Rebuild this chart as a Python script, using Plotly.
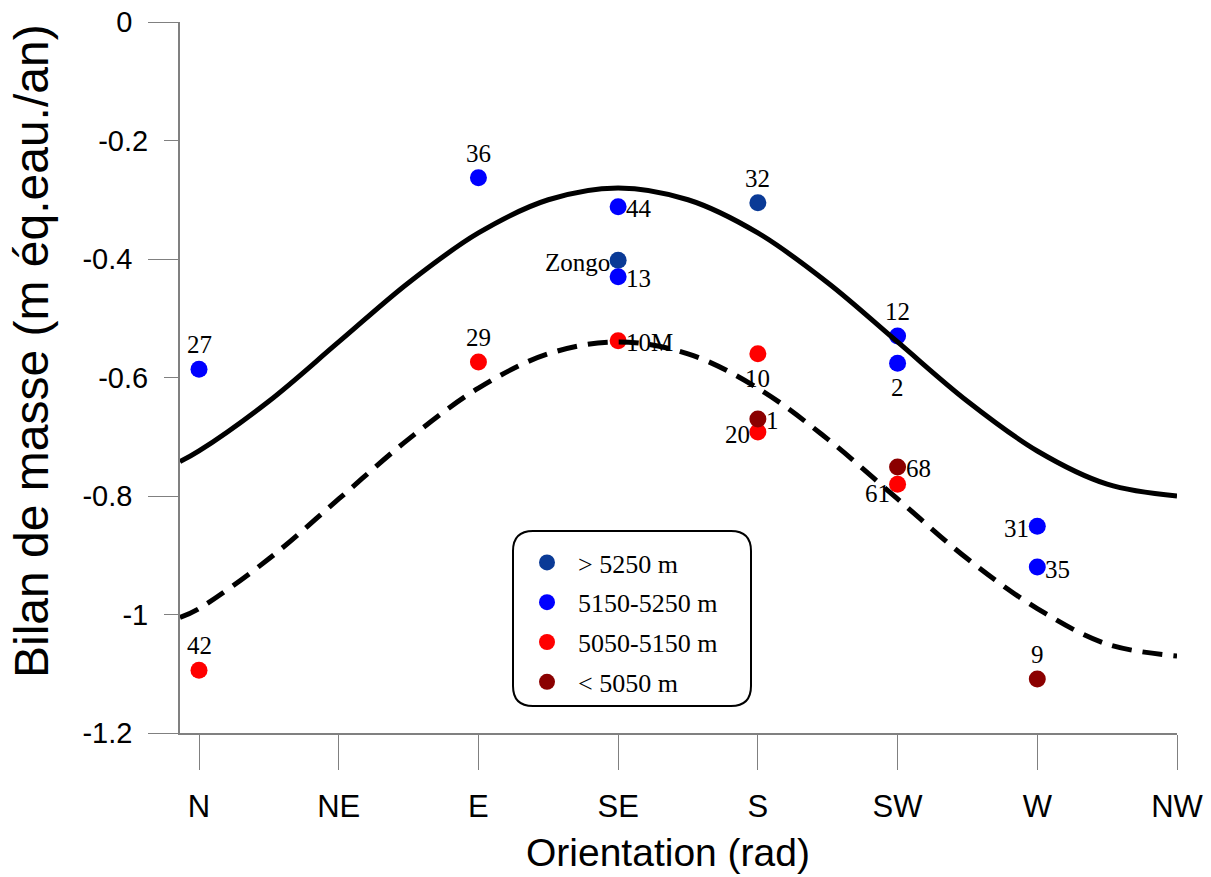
import plotly.graph_objects as go

# ---------------- data ----------------
directions = ["N", "NE", "E", "SE", "S", "SW", "W", "NW"]
y_ticks_long = [0, -0.4, -0.8, -1.2]
y_tick_labels_long = ["0", "-0.4", "-0.8", "-1.2"]
y_ticks_short = [-0.2, -0.6, -1.0]
y_tick_labels_short = ["-0.2", "-0.6", "-1"]

classes = ["> 5250 m", "5150-5250 m", "5050-5150 m", "&lt; 5050 m"]
class_colors = ["#0a3a96", "#0000ff", "#ff0000", "#8b0000"]

station_names = ["27", "42", "36", "29", "44", "Zongo", "13", "10M", "32", "10",
                 "1", "20", "12", "2", "68", "61", "31", "35", "9"]
station_dirs = ["N", "N", "E", "E", "SE", "SE", "SE", "SE", "S", "S",
                "S", "S", "SW", "SW", "SW", "SW", "W", "W", "W"]
station_balance = [-0.586, -1.094, -0.263, -0.574, -0.312, -0.402, -0.430, -0.538, -0.305, -0.560,
                   -0.670, -0.692, -0.530, -0.576, -0.751, -0.780, -0.851, -0.920, -1.109]
station_class = [1, 2, 1, 2, 1, 0, 1, 2, 0, 2,
                 3, 2, 1, 1, 3, 2, 1, 1, 3]

# fitted curves (orientation index, balance)
curve_x = [-0.136, 0, 0.5, 1, 1.5, 2, 2.5, 3, 3.5, 4, 4.5, 5, 5.5, 6, 6.5, 7]
fit_upper = [-0.742, -0.724, -0.640, -0.540, -0.440, -0.356, -0.300, -0.280,
             -0.300, -0.356, -0.440, -0.540, -0.640, -0.724, -0.780, -0.800]
fit_lower = [-1.005, -0.990, -0.906, -0.805, -0.704, -0.618, -0.560, -0.540,
             -0.560, -0.618, -0.704, -0.805, -0.906, -0.990, -1.050, -1.070]

y_title = "Bilan de masse (m éq.eau./an)"
x_title = "Orientation (rad)"

# ---------------- label placement (style) ----------------
label_place = {
    "27": "above", "42": "above", "36": "above", "29": "above", "44": "right",
    "Zongo": "left", "13": "right", "10M": "right", "32": "above", "10": "below",
    "1": "right", "20": "left", "12": "above", "2": "below", "68": "right",
    "61": "lowleft", "31": "left", "35": "right", "9": "above",
}
place_style = {
    "above": dict(xanchor="center", yanchor="bottom", xshift=0, yshift=9),
    "below": dict(xanchor="center", yanchor="top", xshift=0, yshift=-9),
    "right": dict(xanchor="left", yanchor="middle", xshift=6, yshift=-2),
    "left": dict(xanchor="right", yanchor="middle", xshift=-6, yshift=-2),
    "lowleft": dict(xanchor="right", yanchor="middle", xshift=-6, yshift=-9),
}

SANS = "Liberation Sans, Arial, sans-serif"
SERIF = "Liberation Serif, Times New Roman, serif"
AXIS_GREY = "#808080"

W, H = 1211, 877
PL, PR, PT, PB = 180, 1177, 22, 733   # plot area in page pixels

fig = go.Figure()

fig.add_trace(go.Scatter(
    x=curve_x, y=fit_upper, mode="lines", showlegend=False, hoverinfo="skip", yaxis="y2",
    line=dict(color="black", width=5, shape="spline", smoothing=1.0),
))
fig.add_trace(go.Scatter(
    x=curve_x, y=fit_lower, mode="lines", showlegend=False, hoverinfo="skip", yaxis="y2",
    line=dict(color="black", width=5, dash="20px,11px", shape="spline", smoothing=1.0),
))

for ci, cname in enumerate(classes):
    idx = [i for i, c in enumerate(station_class) if c == ci]
    fig.add_trace(go.Scatter(
        x=[directions.index(station_dirs[i]) for i in idx],
        y=[station_balance[i] for i in idx],
        mode="markers",
        name=cname,
        legendgroup=f"g{ci}",
        marker=dict(color=class_colors[ci], size=17, line=dict(width=0)),
        text=[station_names[i] for i in idx],
        hovertemplate="%{text}: %{y}<extra></extra>",
        cliponaxis=False,
    ))

def px(xp):
    return (xp - PL) / (PR - PL)
def py(yp):
    return (PB - yp) / (PB - PT)

annotations = []
for name, d, v in zip(station_names, station_dirs, station_balance):
    st = place_style[label_place[name]]
    annotations.append(dict(
        x=directions.index(d), y=v, xref="x", yref="y", text=name, showarrow=False,
        font=dict(family=SERIF, size=25, color="black"),
        xanchor=st["xanchor"], yanchor=st["yanchor"],
        xshift=st["xshift"], yshift=st["yshift"],
    ))
# axis titles, placed where the reference puts them
annotations.append(dict(
    x=px(31), y=py(351), xref="paper", yref="paper", text=y_title, showarrow=False,
    textangle=-90, xanchor="center", yanchor="middle",
    font=dict(family=SANS, size=48, color="black"),
))
annotations.append(dict(
    x=px(668), y=py(852), xref="paper", yref="paper", text=x_title, showarrow=False,
    xanchor="center", yanchor="middle",
    font=dict(family=SANS, size=39, color="black"),
))

# rounded legend frame
bl, br, bt, bb, r = 513, 751, 531, 706, 20
path = (f"M {px(bl + r)} {py(bt)} L {px(br - r)} {py(bt)} "
        f"Q {px(br)} {py(bt)} {px(br)} {py(bt + r)} "
        f"L {px(br)} {py(bb - r)} Q {px(br)} {py(bb)} {px(br - r)} {py(bb)} "
        f"L {px(bl + r)} {py(bb)} Q {px(bl)} {py(bb)} {px(bl)} {py(bb - r)} "
        f"L {px(bl)} {py(bt + r)} Q {px(bl)} {py(bt)} {px(bl + r)} {py(bt)} Z")

fig.update_layout(
    width=W, height=H,
    margin=dict(l=PL, r=W - PR, t=PT, b=H - PB, autoexpand=False),
    paper_bgcolor="white", plot_bgcolor="white",
    showlegend=True,
    legend=dict(
        x=px(516), y=py(539), xanchor="left", yanchor="top",
        bgcolor="rgba(0,0,0,0)", borderwidth=0,
        font=dict(family=SERIF, size=26, color="black"),
        itemwidth=52, tracegroupgap=3, itemsizing="trace",
    ),
    shapes=[dict(type="path", path=path, xref="paper", yref="paper",
                 line=dict(color="black", width=2), fillcolor="rgba(0,0,0,0)", layer="below")],
    annotations=annotations,
    xaxis=dict(
        range=[-0.136, 7.0], tickmode="array", tickvals=list(range(len(directions))),
        ticktext=directions, ticks="outside", ticklen=35, tickwidth=1, tickcolor=AXIS_GREY,
        showline=True, linecolor=AXIS_GREY, linewidth=1.5, showgrid=False, zeroline=False,
        tickfont=dict(family=SANS, size=31, color="black"), ticklabelstandoff=10,
    ),
    yaxis=dict(
        range=[-1.2, 0], tickmode="array", tickvals=y_ticks_long, ticktext=y_tick_labels_long,
        ticks="outside", ticklen=30, tickwidth=1, tickcolor=AXIS_GREY,
        showline=True, linecolor=AXIS_GREY, linewidth=1.5, showgrid=False, zeroline=False,
        tickfont=dict(family=SANS, size=29, color="black"), ticklabelstandoff=10,
    ),
    yaxis2=dict(
        range=[-1.2, 0], overlaying="y", side="left", anchor="x",
        tickmode="array", tickvals=y_ticks_short, ticktext=y_tick_labels_short,
        ticks="outside", ticklen=15, tickwidth=1, tickcolor=AXIS_GREY,
        showline=False, showgrid=False, zeroline=False,
        tickfont=dict(family=SANS, size=29, color="black"), ticklabelstandoff=10,
    ),
)

# remove the default 8px page margin so the figure fills the window exactly
fig.write_html("out.html", config={"displayModeBar": False},
               post_script="document.body.style.margin='0px';")
